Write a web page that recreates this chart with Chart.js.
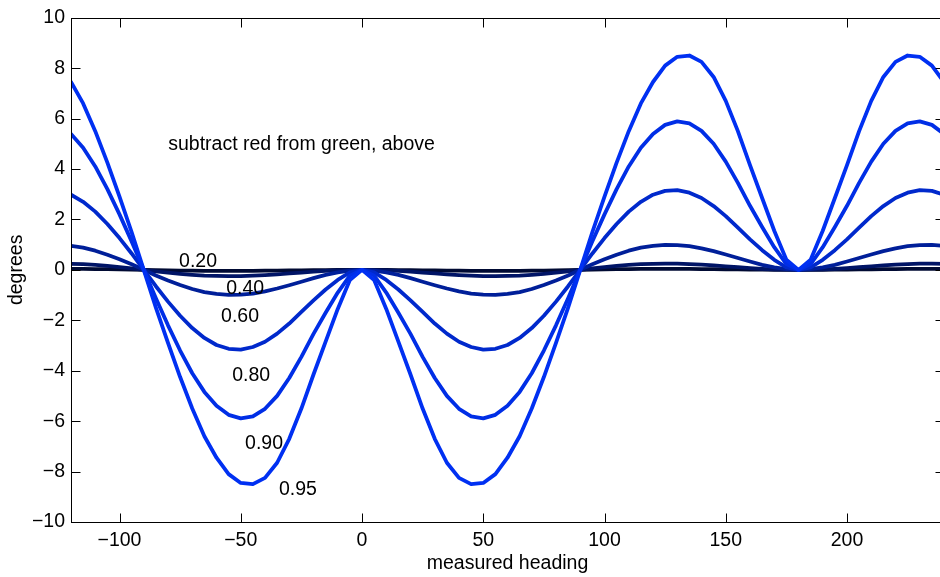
<!DOCTYPE html>
<html>
<head>
<meta charset="utf-8">
<script src="https://cdn.jsdelivr.net/npm/chart.js@4.4.1/dist/chart.umd.min.js"></script>
<style>
  html, body { margin: 0; padding: 0; background: #fff; overflow: hidden; }
  #wrap { width: 940px; height: 577px; overflow: hidden; }
</style>
</head>
<body>
<div id="wrap"><canvas id="chart" width="946" height="577"></canvas></div>
<script>
// measured heading, 5 degree steps
const headings = [-120, -115, -110, -105, -100, -95, -90, -85, -80, -75, -70, -65, -60, -55, -50, -45, -40, -35, -30, -25,
    -20, -15, -10, -5, 0, 5, 10, 15, 20, 25, 30, 35, 40, 45, 50, 55, 60, 65, 70, 75, 80, 85, 90, 95, 100, 105, 110, 115,
    120, 125, 130, 135, 140, 145, 150, 155, 160, 165, 170, 175, 180, 185, 190, 195, 200, 205, 210, 215, 220, 225, 230, 235, 240];

// heading error (degrees), one series per label
const err20 = [0.04, 0.04, 0.03, 0.03, 0.02, 0.01, 0,
    -0.01, -0.02, -0.03, -0.03, -0.04, -0.04, -0.04, -0.04, -0.04, -0.03, -0.03, -0.02, -0.02, -0.01, -0.01, 0, 0, 0,
    0, 0, -0.01, -0.01, -0.02, -0.02, -0.03, -0.03, -0.04, -0.04, -0.04, -0.04, -0.04, -0.03, -0.03, -0.02, -0.01, 0,
    0.01, 0.02, 0.03, 0.03, 0.04, 0.04, 0.04, 0.04, 0.04, 0.03, 0.03, 0.02, 0.02, 0.01, 0.01, 0, 0, 0,
    0, 0, 0.01, 0.01, 0.02, 0.02, 0.03, 0.03, 0.04, 0.04, 0.04, 0.04];
const err40 = [0.24, 0.23, 0.2, 0.16, 0.11, 0.06, 0,
    -0.06, -0.11, -0.16, -0.2, -0.23, -0.24, -0.25, -0.25, -0.23, -0.21, -0.18, -0.14, -0.11, -0.07, -0.04, -0.02, -0.01, 0,
    -0.01, -0.02, -0.04, -0.07, -0.11, -0.14, -0.18, -0.21, -0.23, -0.25, -0.25, -0.24, -0.23, -0.2, -0.16, -0.11, -0.06, 0,
    0.06, 0.11, 0.16, 0.2, 0.23, 0.24, 0.25, 0.25, 0.23, 0.21, 0.18, 0.14, 0.11, 0.07, 0.04, 0.02, 0.01, 0,
    0.01, 0.02, 0.04, 0.07, 0.11, 0.14, 0.18, 0.21, 0.23, 0.25, 0.25, 0.24];
const err60 = [0.95, 0.88, 0.76, 0.6, 0.42, 0.22, 0,
    -0.22, -0.42, -0.6, -0.76, -0.88, -0.95, -0.99, -0.98, -0.94, -0.85, -0.74, -0.61, -0.47, -0.33, -0.2, -0.1, -0.03, 0,
    -0.03, -0.1, -0.2, -0.33, -0.47, -0.61, -0.74, -0.85, -0.94, -0.98, -0.99, -0.95, -0.88, -0.76, -0.6, -0.42, -0.22, 0,
    0.22, 0.42, 0.6, 0.76, 0.88, 0.95, 0.99, 0.98, 0.94, 0.85, 0.74, 0.61, 0.47, 0.33, 0.2, 0.1, 0.03, 0,
    0.03, 0.1, 0.2, 0.33, 0.47, 0.61, 0.74, 0.85, 0.94, 0.98, 0.99, 0.95];
const err80 = [2.98, 2.7, 2.31, 1.82, 1.26, 0.65, 0,
    -0.65, -1.26, -1.82, -2.31, -2.7, -2.98, -3.13, -3.16, -3.06, -2.85, -2.53, -2.13, -1.67, -1.21, -0.78, -0.4, -0.1, 0,
    -0.1, -0.4, -0.78, -1.21, -1.67, -2.13, -2.53, -2.85, -3.06, -3.16, -3.13, -2.98, -2.7, -2.31, -1.82, -1.26, -0.65, 0,
    0.65, 1.26, 1.82, 2.31, 2.7, 2.98, 3.13, 3.16, 3.06, 2.85, 2.53, 2.13, 1.67, 1.21, 0.78, 0.4, 0.1, 0,
    0.1, 0.4, 0.78, 1.21, 1.67, 2.13, 2.53, 2.85, 3.06, 3.16, 3.13, 2.98];
const err90 = [5.39, 4.84, 4.1, 3.2, 2.2, 1.13, 0,
    -1.13, -2.2, -3.2, -4.1, -4.84, -5.39, -5.75, -5.89, -5.81, -5.51, -5.0, -4.29, -3.45, -2.54, -1.7, -0.9, -0.23, 0,
    -0.23, -0.9, -1.7, -2.54, -3.45, -4.29, -5.0, -5.51, -5.81, -5.89, -5.75, -5.39, -4.84, -4.1, -3.2, -2.2, -1.13, 0,
    1.13, 2.2, 3.2, 4.1, 4.84, 5.39, 5.75, 5.89, 5.81, 5.51, 5.0, 4.29, 3.45, 2.54, 1.7, 0.9, 0.23, 0,
    0.23, 0.9, 1.7, 2.54, 3.45, 4.29, 5.0, 5.51, 5.81, 5.89, 5.75, 5.39];
const err95 = [7.45, 6.6, 5.5, 4.25, 2.9, 1.5, 0,
    -1.5, -2.9, -4.25, -5.5, -6.6, -7.45, -8.1, -8.45, -8.5, -8.25, -7.65, -6.7, -5.5, -4.15, -2.85, -1.55, -0.4, 0,
    -0.4, -1.55, -2.85, -4.15, -5.5, -6.7, -7.65, -8.25, -8.5, -8.45, -8.1, -7.45, -6.6, -5.5, -4.25, -2.9, -1.5, 0,
    1.5, 2.9, 4.25, 5.5, 6.6, 7.45, 8.1, 8.45, 8.5, 8.25, 7.65, 6.7, 5.5, 4.15, 2.85, 1.55, 0.4, 0,
    0.4, 1.55, 2.85, 4.15, 5.5, 6.7, 7.65, 8.25, 8.5, 8.45, 8.1, 7.45];

const seriesLabels = ['0.20', '0.40', '0.60', '0.80', '0.90', '0.95'];
const seriesValues = [err20, err40, err60, err80, err90, err95];
const xTicks = [-100, -50, 0, 50, 100, 150, 200];
const yTicks = [-10, -8, -6, -4, -2, 0, 2, 4, 6, 8, 10];
const noteText = 'subtract red from green, above';

// styling
const FONT = "'Liberation Sans', Arial, Helvetica, sans-serif";
const FONT_SIZE = 19.5;
const lineColors = ['rgb(0,10,51)', 'rgb(0,20,102)', 'rgb(0,31,153)', 'rgb(0,41,204)', 'rgb(0,46,230)', 'rgb(0,48,242)'];
// where the series labels sit (centre, data units)
const labelSpots = [[-67.6, 0.31], [-48.2, -0.75], [-50.3, -1.85], [-45.7, -4.21], [-40.4, -6.89], [-26.4, -8.7]];
const noteSpot = [-79.9, 4.96];
const TICK_LEN = 9;

const minus = v => String(v).replace('-', '\u2212');

const axesBox = {
    id: 'axesBox',
    afterDatasetsDraw(chart) {
        const { ctx, chartArea: a, scales: { x, y } } = chart;
        ctx.save();
        ctx.fillStyle = '#000';
        ctx.font = `${FONT_SIZE}px ${FONT}`;
        ctx.textAlign = 'center';
        ctx.textBaseline = 'middle';
        seriesLabels.forEach((t, i) => {
            ctx.fillText(t, x.getPixelForValue(labelSpots[i][0]), y.getPixelForValue(labelSpots[i][1]));
        });
        ctx.textAlign = 'left';
        ctx.fillText(noteText, x.getPixelForValue(noteSpot[0]), y.getPixelForValue(noteSpot[1]));

        // box round the plot
        ctx.strokeStyle = '#000';
        ctx.lineWidth = 1;
        const l = Math.round(a.left) + 0.5, r = Math.round(a.right) + 0.5;
        const t = Math.round(a.top) + 0.5, b = Math.round(a.bottom) + 0.5;
        ctx.strokeRect(l, t, r - l, b - t);

        // inward ticks, all four sides
        ctx.beginPath();
        xTicks.forEach(v => {
            const px = Math.round(x.getPixelForValue(v)) + 0.5;
            ctx.moveTo(px, b); ctx.lineTo(px, b - TICK_LEN);
            ctx.moveTo(px, t); ctx.lineTo(px, t + TICK_LEN);
        });
        yTicks.forEach(v => {
            const py = Math.round(y.getPixelForValue(v)) + 0.5;
            ctx.moveTo(l, py); ctx.lineTo(l + TICK_LEN, py);
            ctx.moveTo(r, py); ctx.lineTo(r - TICK_LEN, py);
        });
        ctx.stroke();
        ctx.restore();
    }
};

new Chart(document.getElementById('chart'), {
    type: 'line',
    data: {
        datasets: seriesValues.map((vals, i) => ({
            label: seriesLabels[i],
            data: headings.map((h, j) => ({ x: h, y: vals[j] })),
            borderColor: lineColors[i],
            borderWidth: 3.8,
            borderJoinStyle: 'round',
            borderCapStyle: 'round',
            pointRadius: 0,
            tension: 0,
            fill: false,
            order: seriesLabels.length - i
        }))
    },
    options: {
        responsive: false,
        animation: false,
        layout: { padding: { top: 14, right: 2, left: 0, bottom: 0 } },
        plugins: { legend: { display: false }, tooltip: { enabled: false } },
        scales: {
            x: {
                type: 'linear',
                min: -120,
                max: 240,
                afterBuildTicks: axis => { axis.ticks = xTicks.map(v => ({ value: v })); },
                afterFit: axis => { axis.height = 55; },
                grid: { display: false, drawTicks: false },
                border: { display: false },
                ticks: {
                    padding: 7,
                    color: '#000',
                    font: { family: FONT, size: FONT_SIZE },
                    maxRotation: 0,
                    callback: v => minus(v)
                },
                title: {
                    display: true,
                    text: 'measured heading',
                    color: '#000',
                    font: { family: FONT, size: FONT_SIZE },
                    padding: { top: 0, bottom: 2 }
                }
            },
            y: {
                min: -10,
                max: 10,
                afterBuildTicks: axis => { axis.ticks = yTicks.map(v => ({ value: v })); },
                afterFit: axis => { axis.width = 71; },
                grid: { display: false, drawTicks: false },
                border: { display: false },
                ticks: {
                    padding: 6,
                    color: '#000',
                    font: { family: FONT, size: FONT_SIZE },
                    callback: v => minus(v)
                },
                title: {
                    display: true,
                    text: 'degrees',
                    color: '#000',
                    font: { family: FONT, size: FONT_SIZE },
                    padding: { top: 5, bottom: 0 }
                }
            }
        }
    },
    plugins: [axesBox]
});
</script>
</body>
</html>
